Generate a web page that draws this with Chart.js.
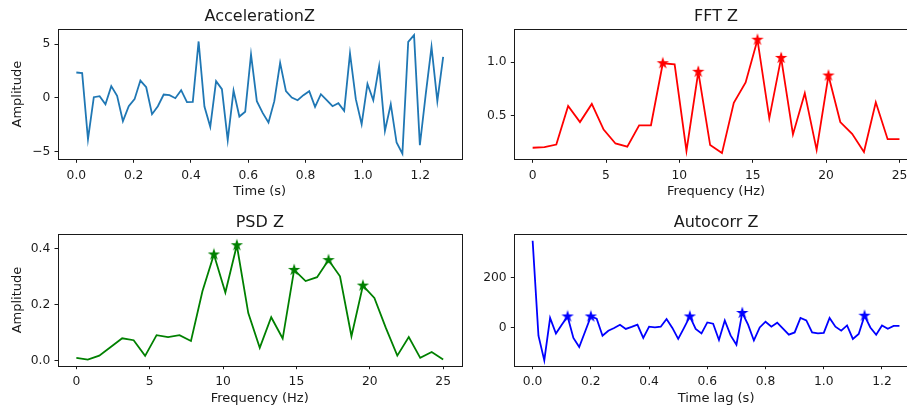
<!DOCTYPE html>
<html>
<head>
<meta charset="utf-8">
<title>Accelerometer Z analysis</title>
<script src="https://cdn.jsdelivr.net/npm/chart.js@4.4.1/dist/chart.umd.min.js"></script>
<style>
  html, body { margin: 0; padding: 0; background: #fff; overflow: hidden; }
  body { width: 907px; height: 409px; position: relative; }
  canvas { position: absolute; }
</style>
</head>
<body>
<script>
// Raw signal: 64 samples spread over 1.28 s
const accelDuration = 1.28;
const accelZ = [
  2.36, 2.30, -3.85, 0.06, 0.16, -0.59, 1.09, 0.19, -2.17, -0.78, -0.12, 1.61, 0.99, -1.52, -0.78, 0.31,
  0.25, -0.03, 0.71, -0.40, -0.37, 5.25, -0.81, -2.70, 1.55, 0.81, -3.94, 0.68, -1.74, -1.30, 4.04, -0.31,
  -1.40, -2.30, -0.31, 3.26, 0.62, 0.03, -0.22, 0.25, 0.62, -0.84, 0.34, -0.22, -0.78, -0.50, -1.21, 4.13,
  -0.12, -2.45, 1.30, -0.22, 2.95, -3.07, -0.59, -4.16, -5.19, 5.22, 5.84, -4.41, 0.30, 4.75, -0.31, 3.82
];

// FFT magnitude, 32 bins from 0 to 25 Hz
const fftMaxFreq = 25;
const fftZ = [
  0.20, 0.205, 0.23, 0.59, 0.44, 0.61, 0.37, 0.24, 0.21, 0.41, 0.41, 0.99, 0.98, 0.17, 0.91, 0.225,
  0.15, 0.62, 0.81, 1.21, 0.475, 1.04, 0.325, 0.71, 0.18, 0.875, 0.44, 0.33, 0.16, 0.625, 0.28, 0.28
];
const fftPeaks = [11, 14, 19, 21, 25];

// Power spectral density, 33 bins from 0 to 25 Hz
const psdMaxFreq = 25;
const psdZ = [
  0.011, 0.005, 0.019, 0.05, 0.081, 0.074, 0.018, 0.092, 0.085, 0.092, 0.071, 0.249, 0.38, 0.244, 0.413, 0.171,
  0.047, 0.156, 0.08, 0.325, 0.285, 0.299, 0.36, 0.302, 0.088, 0.269, 0.225, 0.118, 0.019, 0.085, 0.011, 0.032,
  0.005
];
const psdPeaks = [12, 14, 19, 22, 25];

// Autocorrelation, lag step 0.02 s
const lagStep = 0.02;
const autocorrZ = [
  348, -32, -131, 39, -23, 12, 45, -41, -77, -16, 45, 36, -32, -12, -1, 12,
  -5, 3, 12, -41, 4, 1, 4, 35, -1, -45, -1, 45, -5, -23, 21, 16,
  -49, 29, -31, -68, 59, 12, -51, 1, 24, 4, 20, -4, -28, -19, 39, 29,
  -19, -23, -21, 39, 4, -12, 9, -45, -25, 48, 1, -28, 9, -4, 7, 7
];
const autocorrPeaks = [6, 10, 27, 36, 57];

// Tick values and their labels
const timeTicks = [0, 0.2, 0.4, 0.6, 0.8, 1.0, 1.2];
const timeTickLabels = ['0.0', '0.2', '0.4', '0.6', '0.8', '1.0', '1.2'];
const freqTicks = [0, 5, 10, 15, 20, 25];
const freqTickLabels = ['0', '5', '10', '15', '20', '25'];
const accelTicks = [-5, 0, 5];
const accelTickLabels = ['\u22125', '0', '5'];
const fftTicks = [0.5, 1.0];
const fftTickLabels = ['0.5', '1.0'];
const psdTicks = [0, 0.2, 0.4];
const psdTickLabels = ['0.0', '0.2', '0.4'];
const autocorrTicks = [0, 200];
const autocorrTickLabels = ['0', '200'];

const INK = '#1a1a1a';
Chart.defaults.font.family = "'DejaVu Sans', sans-serif";
Chart.defaults.color = INK;

// box around the plot area, like matplotlib spines
const framePlugin = {
  id: 'frame',
  afterDraw(chart) {
    const { ctx, chartArea: a } = chart;
    const l = Math.round(a.left) + 0.5, t = Math.round(a.top) + 0.5;
    const r = Math.round(a.right) + 0.5, b = Math.round(a.bottom) + 0.5;
    ctx.save();
    ctx.strokeStyle = INK;
    ctx.lineWidth = 1;
    ctx.strokeRect(l, t, r - l, b - t);
    ctx.restore();
  }
};

function starMarker(color) {
  const size = 14;
  const c = document.createElement('canvas');
  c.width = c.height = size;
  const g = c.getContext('2d');
  const R = 6.5, r = R * 0.382, cx = size / 2, cy = size / 2;
  g.beginPath();
  for (let k = 0; k < 10; k++) {
    const rad = k % 2 ? r : R;
    const ang = -Math.PI / 2 + k * Math.PI / 5;
    g.lineTo(cx + rad * Math.cos(ang), cy + rad * Math.sin(ang));
  }
  g.closePath();
  g.fillStyle = color;
  g.fill();
  return c;
}

function axis(min, max, values, labels, size, tickPad, title, titlePad) {
  return {
    type: 'linear',
    min, max,
    afterBuildTicks: s => { s.ticks = values.map(v => ({ value: v })); },
    afterFit: s => { if (s.isHorizontal()) s.height = size; else s.width = size; },
    grid: { drawOnChartArea: false, color: INK, tickLength: 3.5, lineWidth: 1 },
    border: { display: false },
    ticks: { autoSkip: false, maxRotation: 0, padding: tickPad, font: { size: 12.3 }, callback: (v, i) => labels[i] },
    title: { display: !!title, text: title || '', font: { size: 13 }, padding: titlePad || 0 }
  };
}

function panel(p) {
  const canvas = document.createElement('canvas');
  canvas.width = p.w;
  canvas.height = p.h;
  canvas.style.left = p.left + 'px';
  canvas.style.top = p.top + 'px';
  document.body.appendChild(canvas);

  const line = p.xs.map((x, i) => ({ x, y: p.ys[i] }));
  const datasets = [];
  if (p.peaks) {
    datasets.push({
      data: p.peaks.map(i => ({ x: p.xs[i], y: p.ys[i] })),
      showLine: false,
      pointStyle: starMarker(p.color),
      pointRadius: 6
    });
  }
  datasets.push({ data: line, borderColor: p.color, borderWidth: 1.8, pointRadius: 0, tension: 0, fill: false });

  new Chart(canvas, {
    type: 'line',
    data: { datasets },
    options: {
      responsive: false,
      animation: false,
      events: [],
      layout: { padding: { right: p.padRight } },
      plugins: {
        legend: { display: false },
        tooltip: { enabled: false },
        title: {
          display: true, text: p.title, fullSize: false, color: INK,
          font: { size: 16, weight: 'normal' }, padding: p.titlePad
        }
      },
      scales: { x: p.x, y: p.y }
    },
    plugins: [framePlugin]
  });
}

const accelTimes = accelZ.map((_, i) => i * accelDuration / (accelZ.length - 1));
const fftFreqs = fftZ.map((_, i) => i * fftMaxFreq / (fftZ.length - 1));
const psdFreqs = psdZ.map((_, i) => i * psdMaxFreq / (psdZ.length - 1));
const lags = autocorrZ.map((_, i) => i * lagStep);

panel({
  left: 0, top: 0, w: 470, h: 205, padRight: 8.5,
  title: 'AccelerationZ', titlePad: { top: 7.1, bottom: 2.7 },
  xs: accelTimes, ys: accelZ, color: '#1f77b4',
  x: axis(-0.064, 1.344, timeTicks, timeTickLabels, 45.7, 5.2, 'Time (s)', { top: 0, bottom: 5.2 }),
  y: axis(-5.72, 6.41, accelTicks, accelTickLabels, 58, 4.2, 'Amplitude', { top: 10.2, bottom: 0 })
});

panel({
  left: 464, top: 0, w: 464, h: 205, padRight: 10.2,
  title: 'FFT Z', titlePad: { top: 7.1, bottom: 2.7 },
  xs: fftFreqs, ys: fftZ, peaks: fftPeaks, color: '#ff0000',
  x: axis(-1.25, 26.25, freqTicks, freqTickLabels, 45.7, 5.2, 'Frequency (Hz)', { top: 0, bottom: 5.2 }),
  y: axis(0.092, 1.31, fftTicks, fftTickLabels, 50.3, 4.2)
});

panel({
  left: 0, top: 205, w: 470, h: 204, padRight: 8.5,
  title: 'PSD Z', titlePad: { top: 8.1, bottom: 2.0 },
  xs: psdFreqs, ys: psdZ, peaks: psdPeaks, color: '#008000',
  x: axis(-1.25, 26.25, freqTicks, freqTickLabels, 43.3, 5.2, 'Frequency (Hz)', { top: 0, bottom: 2.5 }),
  y: axis(-0.017, 0.452, psdTicks, psdTickLabels, 58, 4.2, 'Amplitude', { top: 10.2, bottom: 0 })
});

panel({
  left: 464, top: 205, w: 464, h: 204, padRight: 10.2,
  title: 'Autocorr Z', titlePad: { top: 8.1, bottom: 2.0 },
  xs: lags, ys: autocorrZ, peaks: autocorrPeaks, color: '#0000ff',
  x: axis(-0.063, 1.323, timeTicks, timeTickLabels, 43.3, 5.2, 'Time lag (s)', { top: 0, bottom: 2.5 }),
  y: axis(-152, 373.6, autocorrTicks, autocorrTickLabels, 50.3, 4.2)
});
</script>
</body>
</html>
